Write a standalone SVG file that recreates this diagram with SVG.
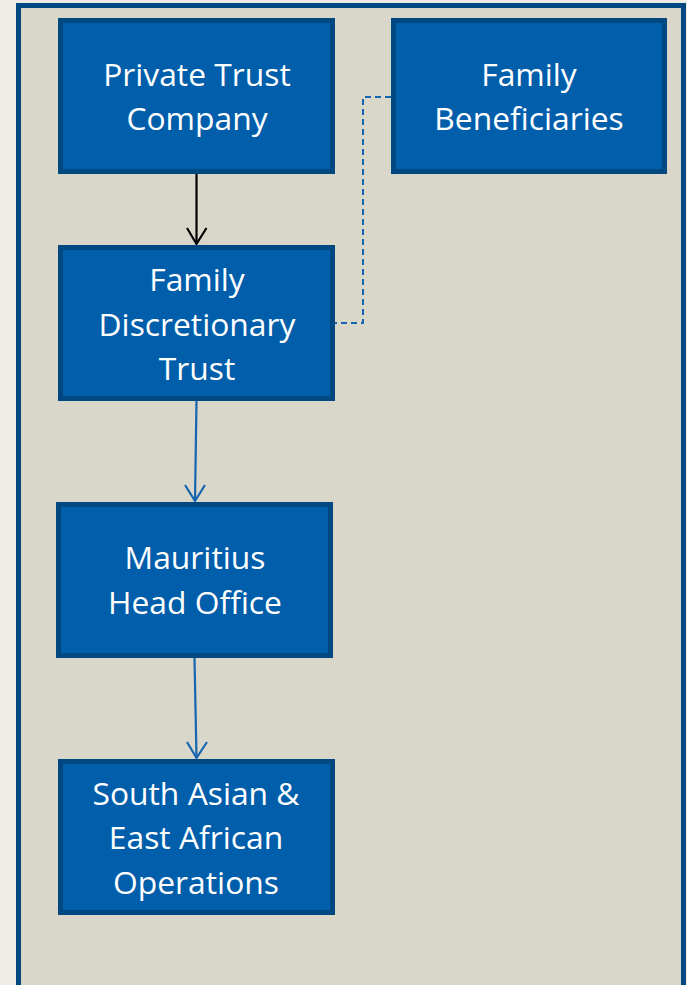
<svg xmlns="http://www.w3.org/2000/svg" width="687" height="985" viewBox="0 0 687 985">
  <defs>
    <style>
      .box { fill: #005EAB; stroke: #00487F; stroke-width: 5; }
      .lbl { fill: #FFFFFF; font-family: "Open Sans", "Liberation Sans", sans-serif; font-size: 31.8px; text-anchor: middle; }
      .solid-blk { fill: none; stroke: #000000; stroke-width: 2.2; }
      .solid-blu { fill: none; stroke: #1565B0; stroke-width: 2.2; }
      .dash { fill: none; stroke: #1565B0; stroke-width: 2; stroke-dasharray: 6 4; }
    </style>
  </defs>

  <!-- page and frame -->
  <rect x="0" y="0" width="687" height="985" fill="#EEEDE5"/>
  <rect x="18.5" y="5.5" width="665" height="995" fill="#D9D7C9" stroke="#00487F" stroke-width="5"/>

  <!-- connectors -->
  <g id="connectors">
    <line class="solid-blk" x1="196.5" y1="174" x2="196.5" y2="244"/>
    <path class="solid-blk" d="M187 228 L196.5 244 L206.5 228"/>
    <line class="solid-blu" x1="196.5" y1="401" x2="195" y2="501"/>
    <path class="solid-blu" d="M185 485 L195 501 L205 485"/>
    <line class="solid-blu" x1="194.5" y1="658" x2="196.5" y2="758"/>
    <path class="solid-blu" d="M187 742 L196.5 758 L207 742"/>
    <path class="dash" d="M391 97 H363 V323 H335"/>
  </g>

  <!-- nodes -->
  <g id="private-trust-company">
    <rect class="box" x="60.5" y="20.5" width="272" height="151"/>
    <text class="lbl" x="197" y="86">Private Trust</text>
    <text class="lbl" x="197" y="130">Company</text>
  </g>

  <g id="family-beneficiaries">
    <rect class="box" x="393.5" y="20.5" width="271" height="151"/>
    <text class="lbl" x="529" y="86">Family</text>
    <text class="lbl" x="529" y="130">Beneficiaries</text>
  </g>

  <g id="family-discretionary-trust">
    <rect class="box" x="60.5" y="247.5" width="272" height="151"/>
    <text class="lbl" x="197" y="291">Family</text>
    <text class="lbl" x="197" y="336">Discretionary</text>
    <text class="lbl" x="197" y="380">Trust</text>
  </g>

  <g id="mauritius-head-office">
    <rect class="box" x="58.5" y="504.5" width="272" height="151"/>
    <text class="lbl" x="195" y="569">Mauritius</text>
    <text class="lbl" x="195" y="614">Head Office</text>
  </g>

  <g id="south-asian-east-african-operations">
    <rect class="box" x="60.5" y="761.5" width="272" height="151"/>
    <text class="lbl" x="196" y="805">South Asian &amp;</text>
    <text class="lbl" x="196" y="849">East African</text>
    <text class="lbl" x="196" y="894">Operations</text>
  </g>
</svg>
